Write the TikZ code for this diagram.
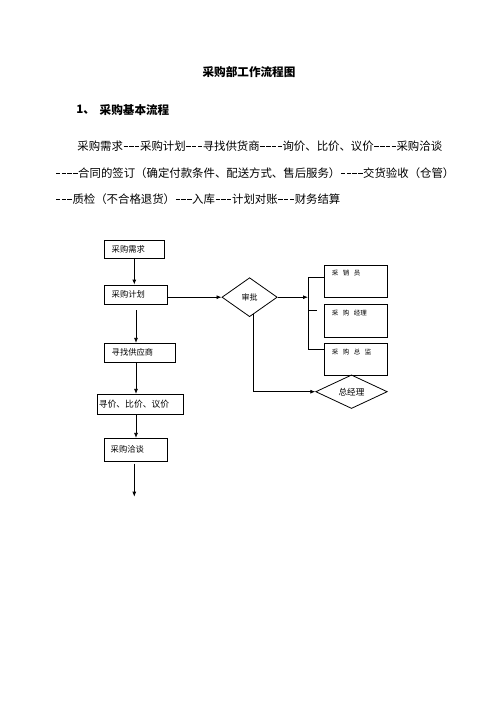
\documentclass[tikz,border=0pt]{standalone}
\usepackage{fontspec}
\setmainfont{Noto Sans CJK SC}
\usetikzlibrary{shapes.geometric,arrows.meta,calc}
\newcommand\dsh{\makebox[0.5em]{\rule[0.3em]{0.38em}{0.06em}}}
\newcommand\myfs[1]{\fontsize{#1}{#1}\selectfont}
\newcommand\gp{\hspace{4.5pt}}
\begin{document}
\begin{tikzpicture}[x=1pt,y=-1pt,
  line width=0.8pt,
  para/.style={anchor=west,inner sep=0pt,font=\myfs{11.4}},
  head/.style={anchor=west,inner sep=0pt,font=\myfs{11.6}\bfseries},
  box/.style={draw,inner ysep=0pt,align=left,font=\myfs{8.3}},
  rbox/.style={draw,anchor=north west,inner ysep=0pt,inner xsep=7.5pt,text width=48.3pt,
    align=left,font=\myfs{6.5},text height=10.5pt},
  dia/.style={draw,diamond,inner sep=0pt,font=\myfs{8}},
  arr/.style={-{Latex[length=5pt,width=4pt]}}]
\fill[white] (0,0) rectangle (496,702);
\useasboundingbox (0,0) rectangle (496,702);

% text
\node[head,anchor=center] (title) at (249,72) {采购部工作流程图};
\node[head] (num) at (76,110) {1、};
\node[head] (sec) at (99.3,110) {采购基本流程};
\node[para] (l1) at (77,146) {采购需求\dsh\dsh\dsh 采购计划\dsh\dsh\dsh 寻找供货商\dsh\dsh\dsh\dsh 询价、比价、议价\dsh\dsh\dsh\dsh 采购洽谈};
\node[para] (l2) at (55,173) {\dsh\dsh\dsh\dsh 合同的签订（确定付款条件、配送方式、售后服务）\dsh\dsh\dsh\dsh 交货验收（仓管）};
\node[para] (l3) at (55,199) {\dsh\dsh\dsh 质检（不合格退货）\dsh\dsh\dsh 入库\dsh\dsh\dsh 计划对账\dsh\dsh\dsh 财务结算};

% left column boxes
\node[box,inner xsep=7.4pt,text width=44.9pt,minimum height=18.3pt] (b1) at (134.15,249.15) {采购需求};
\node[box,inner xsep=7.4pt,text width=48.2pt,minimum height=19pt] (b2) at (135.8,294.5) {采购计划};
\node[box,inner xsep=7.4pt,text width=56.6pt,minimum height=19pt] (b3) at (140,352.8) {寻找供应商};
\node[box,inner xsep=1.5pt,text width=83pt,minimum height=19.7pt,font=\myfs{8.8}] (b4) at (140.3,404.15) {寻价、比价、议价};
\node[box,inner xsep=6.4pt,text width=50.2pt,minimum height=22.7pt] (b5) at (135.8,449.65) {采购洽谈};

% diamonds
\node[dia,minimum width=55.3pt,minimum height=39pt] (d1) at (249.6,297.2) {审批};
\node[dia,minimum width=71.6pt,minimum height=31.3pt,font=\myfs{8.6}] (d2) at (351.5,391.7) {总经理};

% right boxes
\node[rbox,text depth=21.2pt] (r1) at (324,265) {采\gp 销\gp 员};
\node[rbox,text depth=21.9pt] (r2) at (324,304.3) {采\gp 购\gp 经理};
\node[rbox,text depth=21.2pt] (r3) at (324,343.3) {采\gp 购\gp 总\gp 监};

% connectors
\coordinate (cxa) at (134.3,0);
\coordinate (cxb) at (136,0);
\coordinate (endp) at (134.3,496.7);
\draw[arr] (b1.south -| cxa) -- (b2.north -| cxa);
\draw[arr] ($(b2.south -| cxb)+(0,6)$) -- (b3.north -| cxb);
\draw[arr] (b3.south -| cxb) -- (b4.north -| cxb);
\draw[arr] (b4.south -| cxb) -- (b5.north -| cxb);
\draw[arr] ($(b5.south -| cxa)+(0,2.3)$) -- (endp);
\draw[arr] (b2.east |- d1.west) -- (d1.west);

\coordinate (bt) at (308,277);
\coordinate (bm) at (308,310.5);
\coordinate (bb) at (308,349.3);
\draw[arr] (d1.east) -- (bt |- d1.east);
\draw (r1.west |- bt) -- (bt) -- (bb) -- (r3.west |- bb);
\draw (bm) -- ++(8.7,0);
\draw[arr] ($(d1.south)+(3.8,-2.7)$) |- (d2.west);
\end{tikzpicture}
\end{document}
